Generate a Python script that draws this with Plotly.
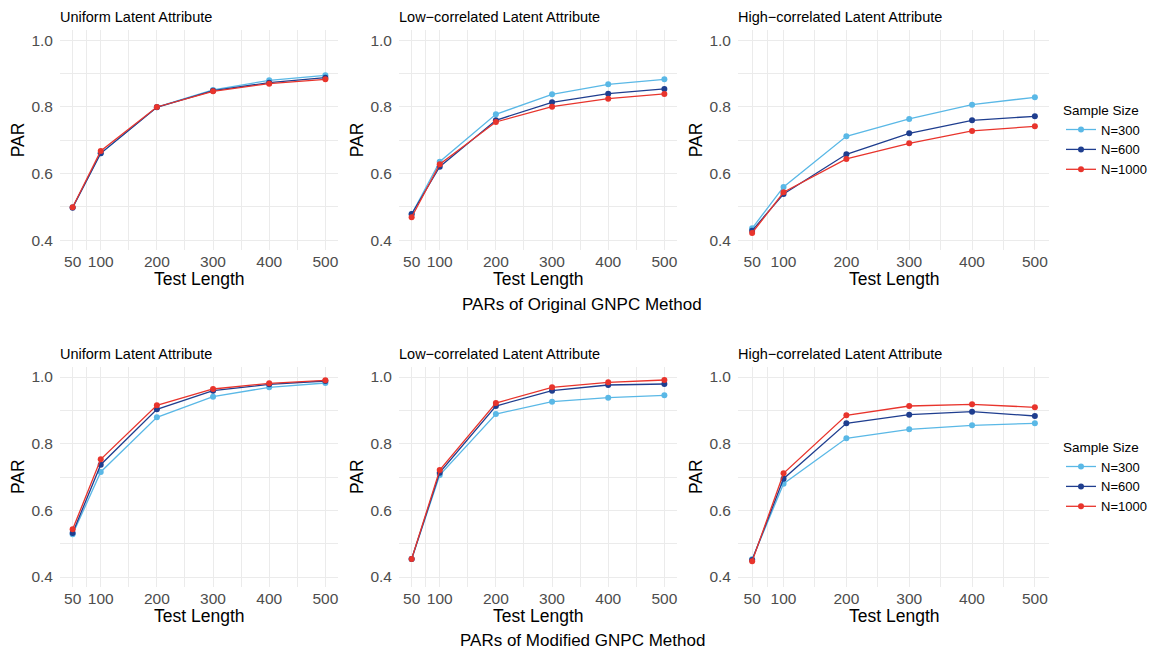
import plotly.graph_objects as go

test_length = [50, 100, 200, 300, 400, 500]
x_tick_labels = ["50", "100", "200", "300", "400", "500"]
y_tick_vals = [0.4, 0.6, 0.8, 1.0]
y_tick_labels = ["0.4", "0.6", "0.8", "1.0"]
sample_sizes = ["N=300", "N=600", "N=1000"]
panel_titles = ["Uniform Latent Attribute", "Low\u2212correlated Latent Attribute", "High\u2212correlated Latent Attribute"]
row_captions = ["PARs of Original GNPC Method", "PARs of Modified GNPC Method"]

# Original GNPC method
orig_uniform_300 = [0.499, 0.661, 0.800, 0.851, 0.880, 0.895]
orig_uniform_600 = [0.498, 0.661, 0.799, 0.849, 0.873, 0.888]
orig_uniform_1000 = [0.499, 0.668, 0.800, 0.847, 0.870, 0.883]
orig_low_300 = [0.478, 0.636, 0.778, 0.838, 0.868, 0.883]
orig_low_600 = [0.479, 0.621, 0.760, 0.814, 0.840, 0.854]
orig_low_1000 = [0.469, 0.628, 0.755, 0.801, 0.825, 0.839]
orig_high_300 = [0.436, 0.560, 0.712, 0.764, 0.807, 0.829]
orig_high_600 = [0.429, 0.539, 0.658, 0.721, 0.760, 0.772]
orig_high_1000 = [0.422, 0.544, 0.644, 0.691, 0.728, 0.742]

# Modified GNPC method
mod_uniform_300 = [0.528, 0.715, 0.879, 0.941, 0.969, 0.982]
mod_uniform_600 = [0.532, 0.737, 0.903, 0.959, 0.978, 0.988]
mod_uniform_1000 = [0.543, 0.753, 0.915, 0.964, 0.981, 0.990]
mod_low_300 = [0.454, 0.706, 0.889, 0.926, 0.938, 0.945]
mod_low_600 = [0.454, 0.713, 0.913, 0.959, 0.976, 0.979]
mod_low_1000 = [0.454, 0.721, 0.922, 0.969, 0.984, 0.991]
mod_high_300 = [0.453, 0.680, 0.816, 0.843, 0.855, 0.861]
mod_high_600 = [0.451, 0.695, 0.861, 0.887, 0.896, 0.883]
mod_high_1000 = [0.447, 0.711, 0.885, 0.913, 0.918, 0.909]

panels = [
    [orig_uniform_300, orig_uniform_600, orig_uniform_1000],
    [orig_low_300, orig_low_600, orig_low_1000],
    [orig_high_300, orig_high_600, orig_high_1000],
    [mod_uniform_300, mod_uniform_600, mod_uniform_1000],
    [mod_low_300, mod_low_600, mod_low_1000],
    [mod_high_300, mod_high_600, mod_high_1000],
]

colors = ["#5AB8E6", "#1F3E8F", "#E8342C"]

W, H = 1151, 653
# plot area pixel boxes (left, right) and (top, bottom)
col_px = [(60, 338), (399, 677), (738, 1049)]
row_px = [(30.3, 250.3), (367, 587)]

fig = go.Figure()
FONT = "Liberation Sans, Arial, sans-serif"

for i, series in enumerate(panels):
    r, c = divmod(i, 3)
    n = i + 1
    xa = "x" if n == 1 else f"x{n}"
    ya = "y" if n == 1 else f"y{n}"
    leg = "legend" if r == 0 else "legend2"
    for k, vals in enumerate(series):
        fig.add_trace(go.Scatter(
            x=test_length, y=vals, xaxis=xa, yaxis=ya,
            mode="lines+markers", name=sample_sizes[k],
            line=dict(color=colors[k], width=1.3),
            marker=dict(color=colors[k], size=6),
            legend=leg, showlegend=(c == 2),
        ))
    l, rr = col_px[c]
    t, b = row_px[r]
    xkey = "xaxis" if n == 1 else f"xaxis{n}"
    ykey = "yaxis" if n == 1 else f"yaxis{n}"
    fig.layout[xkey] = dict(
        domain=[l / W, rr / W], anchor=ya, range=[27.5, 522.5],
        tickmode="array", tickvals=test_length, ticktext=x_tick_labels,
        showgrid=True, gridcolor="#EBEBEB", gridwidth=1.3, zeroline=False,
        showline=False, ticks="", tickfont=dict(size=15.5, color="#4D4D4D", family=FONT),
        minor=dict(tickmode="array", tickvals=[75, 150, 250, 350, 450], showgrid=True,
                   gridcolor="#EBEBEB", gridwidth=0.8),
        fixedrange=True, automargin=False,
    )
    fig.layout[ykey] = dict(
        domain=[1 - b / H, 1 - t / H], anchor=xa, range=[0.37, 1.03],
        tickmode="array", tickvals=y_tick_vals, ticktext=y_tick_labels,
        showgrid=True, gridcolor="#EBEBEB", gridwidth=1.3, zeroline=False,
        showline=False, ticks="", tickfont=dict(size=15.5, color="#4D4D4D", family=FONT),
        ticklabelstandoff=6,
        minor=dict(tickmode="array", tickvals=[0.5, 0.7, 0.9], showgrid=True,
                   gridcolor="#EBEBEB", gridwidth=0.8),
        fixedrange=True, automargin=False,
    )
    # panel title
    fig.add_annotation(text=panel_titles[c], xref="paper", yref="paper",
                       x=(l - 2) / W, y=1 - (t - 3) / H, xanchor="left", yanchor="bottom",
                       showarrow=False, font=dict(size=14.5, color="black", family=FONT))
    # axis titles
    fig.add_annotation(text="Test Length", xref="paper", yref="paper",
                       x=((l + rr) / 2) / W, y=1 - (b + 29) / H,
                       xanchor="center", yanchor="middle", showarrow=False,
                       font=dict(size=17.5, color="black", family=FONT))
    fig.add_annotation(text="PAR", xref="paper", yref="paper",
                       x=(l - 42) / W, y=1 - ((t + b) / 2) / H, textangle=-90,
                       xanchor="center", yanchor="middle", showarrow=False,
                       font=dict(size=17.5, color="black", family=FONT))

for r, cap in enumerate(row_captions):
    yc = 304 if r == 0 else 640
    fig.add_annotation(text=cap, xref="paper", yref="paper", x=582 / W, y=1 - yc / H,
                       xanchor="center", yanchor="middle", showarrow=False,
                       font=dict(size=17, color="black", family=FONT))

legend_common = dict(
    xref="paper", yref="paper", xanchor="left", yanchor="top",
    bgcolor="rgba(0,0,0,0)", font=dict(size=13, color="black", family=FONT),
    title=dict(text="Sample Size", font=dict(size=13.5, color="black", family=FONT)),
    itemwidth=30, tracegroupgap=0, orientation="v",
)
fig.update_layout(
    width=W, height=H, autosize=False,
    margin=dict(l=0, r=0, t=0, b=0, pad=0, autoexpand=False),
    paper_bgcolor="white", plot_bgcolor="white",
    legend=dict(x=1061 / W, y=1 - 97 / H, **legend_common),
    legend2=dict(x=1061 / W, y=1 - 434 / H, **legend_common),
    font=dict(family=FONT),
)

fig.write_html(
    "out.html",
    config={"displayModeBar": False, "responsive": False},
    post_script=(
        "document.documentElement.style.overflow='hidden';"
        "document.body.style.margin='0px';"
        "document.body.style.overflow='hidden';"
    ),
)
